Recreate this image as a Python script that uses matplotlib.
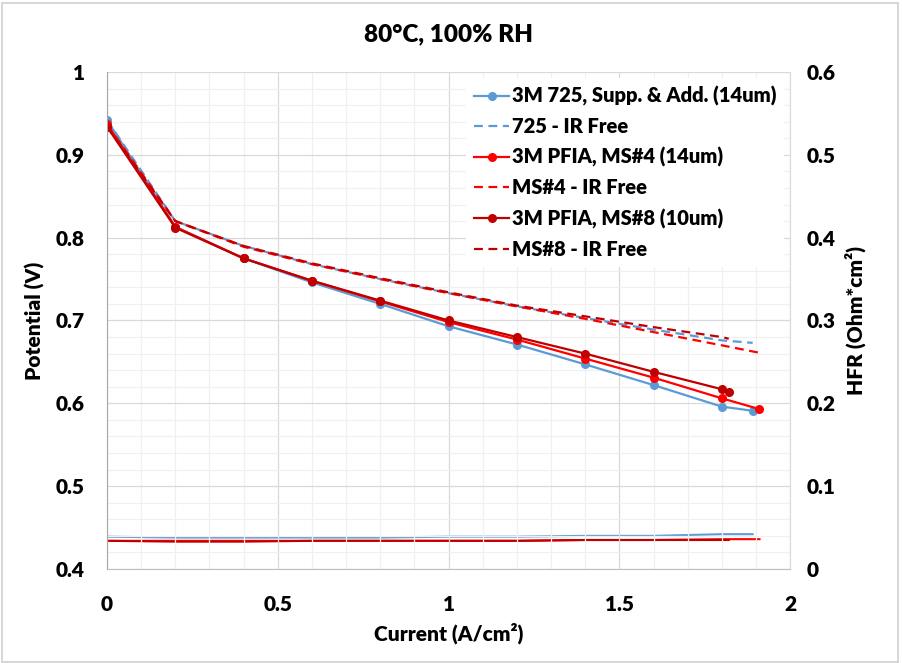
import numpy as np
import matplotlib.pyplot as plt
from matplotlib.patches import Rectangle
from matplotlib.ticker import MultipleLocator

plt.rcParams['font.family'] = ['Lato', 'DejaVu Sans']
plt.rcParams['font.weight'] = 'heavy'
plt.rcParams['axes.titleweight'] = 'heavy'
plt.rcParams['axes.labelweight'] = 'heavy'

# Current density (A/cm2)
current_725 = [0.0, 0.2, 0.4, 0.6, 0.8, 1.0, 1.2, 1.4, 1.6, 1.8, 1.89]
current_ms4 = [0.0, 0.2, 0.4, 0.6, 0.8, 1.0, 1.2, 1.4, 1.6, 1.8, 1.91]
current_ms8 = [0.0, 0.2, 0.4, 0.6, 0.8, 1.0, 1.2, 1.4, 1.6, 1.8, 1.82]

# Cell potential (V)
volt_725 = [0.942, 0.813, 0.775, 0.746, 0.720, 0.693, 0.671, 0.647, 0.622, 0.596, 0.591]
volt_ms4 = [0.937, 0.813, 0.775, 0.748, 0.723, 0.698, 0.677, 0.654, 0.631, 0.606, 0.593]
volt_ms8 = [0.934, 0.812, 0.775, 0.748, 0.724, 0.700, 0.680, 0.660, 0.638, 0.617, 0.614]

# IR-free potential (V)
irfree_725 = [0.942, 0.820, 0.790, 0.768, 0.750, 0.733, 0.717, 0.703, 0.689, 0.676, 0.673]
irfree_ms4 = [0.937, 0.820, 0.789, 0.768, 0.750, 0.733, 0.717, 0.702, 0.686, 0.670, 0.661]
irfree_ms8 = [0.934, 0.820, 0.790, 0.769, 0.751, 0.734, 0.718, 0.705, 0.692, 0.680, 0.678]

# HFR (Ohm*cm2)
hfr_725 = [0.039, 0.038, 0.038, 0.038, 0.038, 0.039, 0.039, 0.040, 0.040, 0.042, 0.042]
hfr_ms4 = [0.034, 0.034, 0.034, 0.034, 0.034, 0.034, 0.034, 0.035, 0.035, 0.036, 0.036]
hfr_ms8 = [0.034, 0.033, 0.033, 0.034, 0.034, 0.034, 0.034, 0.035, 0.035, 0.035, 0.035]

blue = '#5B9BD5'
red = '#FF0000'
dark_red = '#C00000'

fig = plt.figure(figsize=(9.02, 6.63), dpi=100)
ax = fig.add_axes([0.1186, 0.1418, 0.7575, 0.7496])
ax2 = ax.twinx()

# HFR curves on the secondary axis
ax2.plot(current_725, hfr_725, color=blue, lw=1.5)
ax2.plot(current_ms4, hfr_ms4, color=red, lw=1.5)
ax2.plot(current_ms8, hfr_ms8, color=dark_red, lw=1.5)
ax2.set_ylim(0, 0.6)
ax2.set_yticks(np.arange(0, 0.61, 0.1))
ax2.set_yticklabels(['0', '0.1', '0.2', '0.3', '0.4', '0.5', '0.6'])
ax2.set_ylabel('HFR (Ohm*cm²)', fontsize=15, labelpad=6)

dash = (0, (4, 2.5))
ax.plot(current_725, volt_725, color=blue, lw=1.6, marker='o', ms=5.5,
        label='3M 725, Supp. & Add. (14um)')
ax.plot(current_725, irfree_725, color=blue, lw=1.6, linestyle=dash, label='725 - IR Free')
ax.plot(current_ms4, volt_ms4, color=red, lw=1.6, marker='o', ms=5.5,
        label='3M PFIA, MS#4 (14um)')
ax.plot(current_ms4, irfree_ms4, color=red, lw=1.6, linestyle=dash, label='MS#4 - IR Free')
ax.plot(current_ms8, volt_ms8, color=dark_red, lw=1.6, marker='o', ms=5.5,
        label='3M PFIA, MS#8 (10um)')
ax.plot(current_ms8, irfree_ms8, color=dark_red, lw=1.6, linestyle=dash, label='MS#8 - IR Free')

ax.set_xlim(0, 2)
ax.set_ylim(0.4, 1.0)
ax.xaxis.set_minor_locator(MultipleLocator(0.1))
ax.yaxis.set_minor_locator(MultipleLocator(0.02))
ax.set_xticks([0, 0.5, 1, 1.5, 2])
ax.set_xticklabels(['0', '0.5', '1', '1.5', '2'])
ax.set_yticks([0.4, 0.5, 0.6, 0.7, 0.8, 0.9, 1.0])
ax.set_yticklabels(['0.4', '0.5', '0.6', '0.7', '0.8', '0.9', '1'])
ax.grid(which='major', color='#D9D9D9', lw=0.9)
ax.grid(which='minor', color='#F0F0F0', lw=0.9)
ax.set_axisbelow(True)

ax.set_xlabel('Current (A/cm²)', fontsize=15, labelpad=6)
ax.set_ylabel('Potential (V)', fontsize=15, labelpad=8)
ax.set_title('80°C, 100% RH', fontsize=17.5, pad=22)

ax.tick_params(axis='x', which='both', length=0, labelsize=15, pad=19)
ax.tick_params(axis='y', which='both', length=0, labelsize=15, pad=16)
ax2.tick_params(axis='y', which='both', length=0, labelsize=15, pad=12)
for a in (ax, ax2):
    for s in a.spines.values():
        s.set_visible(False)
ax.spines['left'].set_visible(True)
ax.spines['left'].set_color('#A6A6A6')
ax.spines['bottom'].set_visible(True)
ax.spines['bottom'].set_color('#BFBFBF')
ax2.spines['right'].set_visible(True)
ax2.spines['right'].set_color('#D9D9D9')

ax.set_zorder(ax2.get_zorder() + 1)
ax.patch.set_visible(False)

leg = ax.legend(loc='upper right', bbox_to_anchor=(1.0, 1.0), fontsize=14.5, frameon=True,
                fancybox=False, edgecolor='none', facecolor='white', framealpha=1,
                handlelength=1.75, handletextpad=0.12, labelspacing=0.55, borderaxespad=0.3)

fig.patches.append(Rectangle((0.002, 0.002), 0.994, 0.994, transform=fig.transFigure,
                             fill=False, edgecolor='#D0D0D0', lw=1.2))

fig.savefig('out.png', dpi=100)
